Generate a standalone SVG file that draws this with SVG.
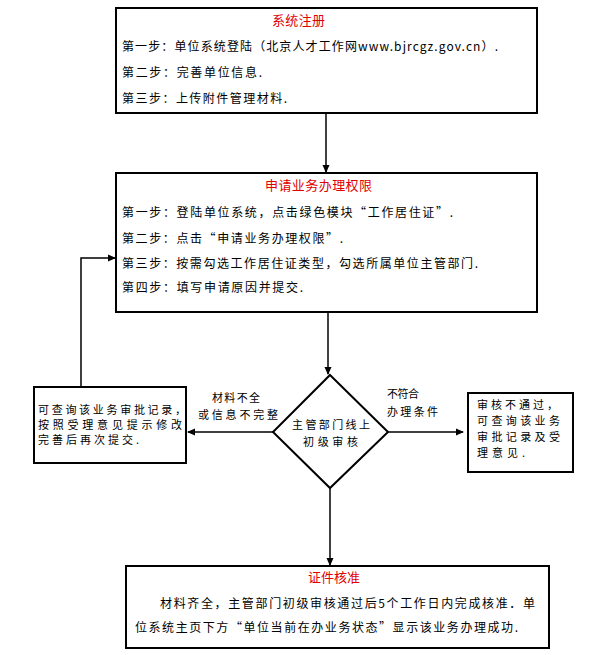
<svg xmlns="http://www.w3.org/2000/svg" width="600" height="655" viewBox="0 0 600 655">
<defs>
<style>
.box{fill:#fff;stroke:#000;stroke-width:2}
.t{font-family:"Noto Sans CJK SC","Noto Sans",sans-serif;font-size:12px;fill:#000}
.s{font-size:11px}
.r{fill:#e00000;font-size:13px}
.c{stroke:#000;stroke-width:1.5;fill:none}
</style>
<marker id="ah" markerWidth="8" markerHeight="8" refX="7" refY="4" orient="auto" markerUnits="userSpaceOnUse">
<path d="M0,0.5 L8,4 L0,7.5 Z" fill="#000"/>
</marker>
</defs>
<rect width="600" height="655" fill="#fff"/>
<g id="connectors">
<line class="c" x1="326" y1="113" x2="326" y2="172" marker-end="url(#ah)"/>
<line class="c" x1="328" y1="312" x2="328" y2="374" marker-end="url(#ah)"/>
<line class="c" x1="273" y1="432" x2="188" y2="432" marker-end="url(#ah)"/>
<line class="c" x1="388" y1="432" x2="463" y2="432" marker-end="url(#ah)"/>
<line class="c" x1="330" y1="488" x2="330" y2="565" marker-end="url(#ah)"/>
<polyline class="c" points="81,387 81,258 115,258" marker-end="url(#ah)"/>
<text class="t s" x="212" y="402" textLength="48" lengthAdjust="spacing">材料不全</text>
<text class="t s" x="198" y="419" textLength="80" lengthAdjust="spacing">或信息不完整</text>
<text class="t s" x="387" y="398" textLength="32" lengthAdjust="spacing">不符合</text>
<text class="t s" x="387" y="416" textLength="51" lengthAdjust="spacing">办理条件</text>
</g>
<g id="node-register">
<rect class="box" x="116" y="8" width="421" height="105"/>
<text class="t r" x="298.5" y="24.5" text-anchor="middle" textLength="53" lengthAdjust="spacing">系统注册</text>
<text class="t" x="122" y="50.5" textLength="376" lengthAdjust="spacing">第一步：单位系统登陆（北京人才工作网www.bjrcgz.gov.cn）.</text>
<text class="t" x="122" y="76.5" textLength="140" lengthAdjust="spacing">第二步：完善单位信息.</text>
<text class="t" x="122" y="102.5" textLength="165" lengthAdjust="spacing">第三步：上传附件管理材料.</text>
</g>
<g id="node-apply">
<rect class="box" x="116" y="173" width="421" height="139"/>
<text class="t r" x="318.5" y="190" text-anchor="middle" textLength="107" lengthAdjust="spacing">申请业务办理权限</text>
<text class="t" x="122" y="216.5" textLength="331" lengthAdjust="spacing">第一步：登陆单位系统，点击绿色模块“工作居住证”.</text>
<text class="t" x="122" y="242.5" textLength="221" lengthAdjust="spacing">第二步：点击“申请业务办理权限”.</text>
<text class="t" x="122" y="267.5" textLength="356" lengthAdjust="spacing">第三步：按需勾选工作居住证类型，勾选所属单位主管部门.</text>
<text class="t" x="122" y="291.5" textLength="181" lengthAdjust="spacing">第四步：填写申请原因并提交.</text>
</g>
<g id="node-review">
<polygon points="330,375 388,432 330,488 273,432" fill="#fff" stroke="#000" stroke-width="2"/>
<text class="t s" x="292" y="429" textLength="78" lengthAdjust="spacing">主管部门线上</text>
<text class="t s" x="303" y="446" textLength="55" lengthAdjust="spacing">初级审核</text>
</g>
<g id="node-revise">
<rect class="box" x="34" y="387" width="152" height="76"/>
<text class="t s" x="38" y="414" textLength="148" lengthAdjust="spacing">可查询该业务审批记录，</text>
<text class="t s" x="38" y="429" textLength="144" lengthAdjust="spacing">按照受理意见提示修改</text>
<text class="t s" x="38" y="444" textLength="101" lengthAdjust="spacing">完善后再次提交.</text>
</g>
<g id="node-reject">
<rect class="box" x="468" y="393" width="105" height="79"/>
<text class="t s" x="477" y="409" textLength="81" lengthAdjust="spacing">审核不通过，</text>
<text class="t s" x="477" y="424.5" textLength="83" lengthAdjust="spacing">可查询该业务</text>
<text class="t s" x="477" y="441" textLength="83" lengthAdjust="spacing">审批记录及受</text>
<text class="t s" x="477" y="457" textLength="48" lengthAdjust="spacing">理意见.</text>
</g>
<g id="node-approve">
<rect class="box" x="126" y="566" width="423" height="82"/>
<text class="t r" x="334" y="582" text-anchor="middle" textLength="52" lengthAdjust="spacing">证件核准</text>
<text class="t" x="160" y="607.5" textLength="375" lengthAdjust="spacing">材料齐全，主管部门初级审核通过后5个工作日内完成核准．单</text>
<text class="t" x="135" y="631.5" textLength="383" lengthAdjust="spacing">位系统主页下方“单位当前在办业务状态”显示该业务办理成功.</text>
</g>
</svg>
